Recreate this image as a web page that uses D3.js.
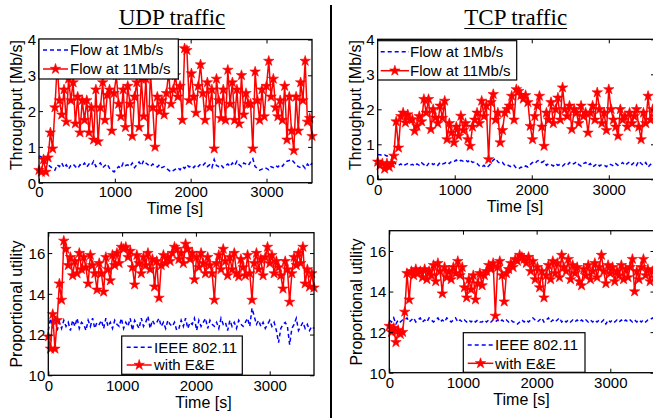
<!DOCTYPE html>
<html><head><meta charset="utf-8">
<script src="https://cdn.jsdelivr.net/npm/d3@7"></script>
<style>html,body{margin:0;padding:0;background:#fff;}svg{display:block;}</style>
</head><body>
<div id="chart"></div>
<script>
// ---------- DATA ----------
const sampleStep = 30;            // seconds between samples
const xTicks = [0, 1000, 2000, 3000];
const thrTicks = [0, 1, 2, 3, 4];
const utilTicks = [10, 12, 14, 16];
const titles = ["UDP traffic", "TCP traffic"];
const thrLegend = ["Flow at 1Mb/s", "Flow at 11Mb/s"];
const utilLegend = ["IEEE 802.11", "with E&E"];

const udpThr1M = [
0.75,0.72,0.60,0.55,0.50,0.45,0.40,0.35,0.50,0.45,
0.55,0.42,0.50,0.38,0.48,0.52,0.45,0.40,0.50,0.47,
0.55,0.44,0.52,0.48,0.60,0.45,0.50,0.55,0.42,0.48,
0.52,0.40,0.35,0.30,0.38,0.45,0.40,0.55,0.48,0.50,
0.45,0.55,0.42,0.50,0.58,0.48,0.62,0.55,0.50,0.45,
0.52,0.48,0.44,0.50,0.42,0.45,0.40,0.35,0.30,0.34,
0.38,0.42,0.36,0.45,0.40,0.50,0.44,0.48,0.42,0.50,
0.45,0.52,0.48,0.55,0.45,0.50,0.42,0.65,0.48,0.45,
0.50,0.42,0.48,0.52,0.45,0.55,0.48,0.60,0.50,0.45,
0.55,0.52,0.48,0.58,0.67,0.45,0.40,0.35,0.38,0.42,
0.40,0.36,0.45,0.42,0.48,0.44,0.50,0.46,0.55,0.60,
0.62,0.65,0.58,0.50,0.45,0.42,0.48,0.40,0.52,0.45,
0.55];
const udpThr11M = [
0.35,0.30,0.65,0.30,0.70,1.40,0.95,2.10,3.30,2.30,
1.90,2.60,1.70,2.90,2.30,2.80,1.65,2.40,1.40,2.30,
1.75,2.30,1.40,2.10,1.20,2.60,1.15,2.10,2.80,1.75,
2.45,2.60,1.45,2.50,3.00,2.20,1.85,2.60,1.55,2.70,
2.20,1.30,2.40,2.80,1.55,2.90,1.85,2.90,1.30,3.05,
2.10,1.00,2.40,2.00,2.30,1.90,2.50,3.10,2.20,2.60,
3.00,2.40,2.70,1.75,3.75,3.70,2.30,3.05,2.40,1.95,
2.70,3.30,2.50,1.75,2.80,2.10,2.60,0.95,2.90,2.30,
1.80,2.60,1.75,3.15,2.20,2.80,1.75,2.60,1.65,3.00,
1.90,2.50,2.20,2.20,0.95,3.10,2.30,1.75,2.60,1.85,
2.70,3.40,2.40,2.90,2.10,1.85,2.30,1.75,2.70,1.20,
2.40,1.45,0.90,2.40,1.45,2.80,2.30,3.40,1.70,1.80,
1.30];
const tcpThr1M = [
0.70,0.70,0.68,0.70,0.66,0.70,0.68,0.50,0.42,0.40,
0.44,0.38,0.42,0.45,0.40,0.43,0.38,0.44,0.40,0.47,
0.42,0.36,0.45,0.48,0.42,0.46,0.40,0.48,0.44,0.46,
0.50,0.45,0.52,0.50,0.55,0.50,0.54,0.52,0.55,0.50,
0.56,0.48,0.50,0.45,0.38,0.35,0.40,0.33,0.38,0.45,
0.55,0.60,0.50,0.45,0.48,0.40,0.42,0.38,0.35,0.40,
0.32,0.30,0.35,0.32,0.38,0.35,0.42,0.48,0.45,0.52,
0.55,0.48,0.52,0.40,0.45,0.42,0.38,0.45,0.40,0.43,
0.38,0.44,0.40,0.48,0.42,0.45,0.50,0.42,0.38,0.45,
0.48,0.40,0.45,0.35,0.40,0.45,0.38,0.42,0.40,0.36,
0.44,0.42,0.38,0.45,0.40,0.42,0.48,0.40,0.45,0.50,
0.42,0.48,0.40,0.52,0.45,0.40,0.48,0.35,0.42,0.48,
0.45];
const tcpThr11M = [
0.50,0.40,0.45,0.30,0.45,0.35,0.45,0.67,1.65,0.90,
1.80,1.90,1.62,1.85,1.70,1.71,1.38,1.52,1.80,1.65,
2.29,1.90,2.29,1.43,2.00,1.76,1.60,2.10,1.75,2.24,
1.14,1.60,1.33,1.05,1.50,1.24,1.81,1.40,1.60,1.14,
0.95,1.50,1.70,1.90,1.60,2.24,1.80,2.10,0.57,2.20,
2.43,1.70,1.90,1.05,1.40,1.90,2.00,2.10,2.38,1.70,
2.57,2.52,2.40,2.30,2.40,2.20,1.52,1.14,1.80,2.10,
2.38,1.50,0.95,1.90,1.70,2.20,1.60,2.00,2.33,1.70,
2.62,2.00,1.80,2.10,1.43,2.00,1.90,1.60,2.10,1.80,
1.90,1.33,1.90,2.10,1.70,2.48,2.00,1.60,1.90,1.40,
2.57,2.00,1.70,1.50,1.24,2.00,1.70,1.80,1.50,1.90,
1.60,1.80,2.00,1.50,1.14,1.90,1.60,2.38,1.70,2.00,
1.80];
const udpUtil80211 = [
12.2,12.8,12.3,12.9,12.2,12.6,12.3,12.7,12.4,12.6,
12.2,12.7,12.4,12.8,12.3,12.6,12.5,12.2,12.7,12.4,
12.8,12.3,12.6,12.5,12.7,12.3,12.8,12.4,12.6,12.3,
12.7,12.5,12.4,12.8,12.3,12.6,12.4,12.8,12.2,12.7,
12.5,12.3,12.8,12.4,12.6,12.9,12.3,12.7,12.5,12.6,
12.8,12.4,12.6,12.3,12.7,12.5,12.4,12.6,12.2,12.3,
12.7,12.4,12.8,12.3,12.6,12.5,12.8,12.2,12.7,12.4,
12.6,12.8,12.3,12.7,12.5,12.4,12.6,12.3,12.8,12.5,
12.6,12.2,12.7,12.4,12.6,12.3,12.7,12.5,12.4,12.6,
12.8,12.4,13.3,12.9,12.5,12.7,12.4,12.6,12.3,12.5,
12.7,12.4,12.6,12.2,11.6,12.3,12.5,12.6,12.4,11.5,
12.3,12.5,12.8,12.2,12.4,12.6,12.3,12.5,12.2,12.4,
12.3];
const udpUtilEE = [
11.9,11.3,13.0,11.3,12.7,14.5,13.7,16.6,16.2,15.4,
15.8,14.9,15.6,15.0,16.0,15.2,15.8,15.3,14.5,15.9,
15.4,15.0,14.2,15.5,15.0,14.1,15.8,15.2,14.65,15.9,
15.4,16.0,15.5,16.3,16.2,16.3,15.8,16.1,15.3,14.45,
15.9,15.5,15.0,15.8,15.4,16.0,15.2,15.7,14.35,15.6,
13.8,15.4,15.9,15.5,15.8,15.6,16.0,16.3,16.2,15.7,
16.0,15.5,16.45,16.2,15.7,16.0,14.7,15.8,15.3,16.0,
15.5,15.0,15.8,15.4,15.0,13.7,15.5,15.9,15.2,16.2,
15.6,14.9,15.8,15.2,16.0,15.0,14.85,15.7,15.3,14.9,
15.9,15.0,13.7,15.5,16.0,15.2,15.7,14.9,15.8,16.3,
15.5,15.9,15.0,15.6,15.3,14.9,14.25,15.6,15.2,13.6,
15.0,15.8,15.4,16.0,15.5,16.3,14.5,15.2,14.35,15.0,
14.3];
const tcpUtil80211 = [
12.6,12.5,12.7,12.4,12.6,12.5,12.6,12.6,12.7,12.5,
12.6,12.7,12.5,12.6,12.7,12.5,12.6,12.5,12.7,12.6,
12.5,12.6,12.7,12.5,12.6,12.5,12.7,12.6,12.5,12.6,
12.7,12.5,12.6,12.5,12.6,12.5,12.6,12.5,12.6,12.5,
12.6,12.5,12.5,12.6,12.5,12.6,12.5,12.6,12.5,12.6,
12.5,12.6,12.5,12.6,12.5,12.6,12.5,12.5,12.4,12.5,
12.6,12.5,12.6,12.5,12.6,12.7,12.6,12.5,12.6,12.7,
12.5,12.6,12.7,12.5,12.6,12.5,12.6,12.7,12.5,12.6,
12.5,12.6,12.5,12.6,12.5,12.6,12.5,12.6,12.5,12.6,
12.5,12.6,12.5,12.6,12.5,12.6,12.5,12.6,12.4,12.6,
12.5,12.6,12.5,12.6,12.5,12.6,12.5,12.6,12.5,12.6,
12.5,12.6,12.5,12.6,12.5,12.6,12.5,12.6,12.6,12.7,
12.6];
const tcpUtilEE = [
12.3,12.0,12.2,11.5,12.1,11.9,12.0,13.0,14.9,13.6,
15.0,14.8,15.1,14.9,15.0,14.7,15.1,14.6,15.0,14.8,
15.3,14.5,15.4,15.0,13.9,15.2,14.7,15.0,14.6,15.2,
14.9,15.5,14.8,15.2,14.2,13.7,14.6,14.1,14.8,13.6,
14.4,14.9,14.3,14.8,15.0,15.3,15.1,15.4,12.8,15.2,
15.5,14.8,13.5,14.9,15.1,15.4,15.2,15.6,15.5,15.8,
15.7,15.6,15.4,15.7,15.0,15.5,14.6,15.2,14.2,15.0,
13.7,14.8,15.3,14.6,15.5,14.9,15.4,14.7,15.8,15.2,
15.0,15.6,14.6,15.3,14.9,15.2,14.5,14.3,15.1,14.8,
15.3,14.6,15.0,15.4,14.7,15.2,15.8,15.0,14.4,15.3,
14.9,15.2,14.5,15.0,14.8,15.3,14.6,15.1,14.7,15.2,
15.6,14.0,15.0,14.6,15.2,15.6,14.8,15.1,14.5,15.0,
14.7];

// ---------- LAYOUT ----------
const W = 653, H = 418;
const BLUE = "#0000ff", RED = "#ff0000";
const FONT = "'Liberation Sans', Arial, Helvetica, sans-serif";
const SERIF = "'Liberation Serif', 'Times New Roman', Times, serif";

const panels = [
  {x0:39, x1:312, y0:39.5, y1:182.7, ydom:[0,4], yticks:thrTicks, blue:udpThr1M, red:udpThr11M,
   ylabel:"Throughput [Mb/s]", ylx:21.5, yly:105, xlx:175, xly:214, tickBase:197.5,
   legend:thrLegend, lg:{x0:39, y0:39, x1:178.3, y1:79, r1:50, r2:69, s0:43, s1:68, tx:70}},
  {x0:377.7, x1:655, y0:39.3, y1:179.3, ydom:[0,4], yticks:thrTicks, blue:tcpThr1M, red:tcpThr11M,
   ylabel:"Throughput [Mb/s]", ylx:360.5, yly:105, xlx:515, xly:212, tickBase:195,
   legend:thrLegend, lg:{x0:377.7, y0:40.7, x1:516.7, y1:80, r1:51.7, r2:70.7, s0:380.7, s1:409, tx:410}},
  {x0:48.3, x1:314, y0:232.7, y1:375.3, ydom:[10,17], yticks:utilTicks, blue:udpUtil80211, red:udpUtilEE,
   ylabel:"Proportional utility", ylx:21.5, yly:304, xlx:203.5, xly:408, tickBase:391,
   legend:utilLegend, lg:{x0:121.7, y0:336, x1:242.3, y1:374.3, r1:347.3, r2:365, s0:126.7, s1:151.7, tx:154}},
  {x0:389.3, x1:654.5, y0:230.7, y1:372.7, ydom:[10,17], yticks:utilTicks, blue:tcpUtil80211, red:tcpUtilEE,
   ylabel:"Proportional utility", ylx:361.5, yly:302, xlx:521.5, xly:405, tickBase:388.5,
   legend:utilLegend, lg:{x0:463.3, y0:332.7, x1:585, y1:372.3, r1:345, r2:363.3, s0:467.7, s1:493.3, tx:495}}
];

const svg = d3.select("#chart").append("svg").attr("width", W).attr("height", H)
  .style("font-family", FONT);
svg.append("rect").attr("width", W).attr("height", H).attr("fill", "#fff");

const star = d3.symbol().type(d3.symbolStar).size(34);

panels.forEach(p => {
  const x = d3.scaleLinear().domain([0, 3600]).range([p.x0, p.x1]);
  const y = d3.scaleLinear().domain(p.ydom).range([p.y1, p.y0]);
  const g = svg.append("g");

  // series
  const toPts = arr => arr.map((v, i) => [i * sampleStep, v]);
  const line = d3.line().x(d => x(d[0])).y(d => y(d[1]));
  g.append("path").datum(toPts(p.blue)).attr("d", line)
    .attr("fill", "none").attr("stroke", BLUE).attr("stroke-width", 1.5)
    .attr("stroke-dasharray", "4,3");
  const redPts = toPts(p.red);
  g.append("path").datum(redPts).attr("d", line)
    .attr("fill", "none").attr("stroke", RED).attr("stroke-width", 1.5);
  g.selectAll(".st").data(redPts).enter().append("path")
    .attr("d", star).attr("transform", d => `translate(${x(d[0])},${y(d[1])})`)
    .attr("fill", RED).attr("stroke", RED).attr("stroke-width", 0.6);

  // frame
  g.append("rect").attr("x", p.x0).attr("y", p.y0)
    .attr("width", p.x1 - p.x0).attr("height", p.y1 - p.y0)
    .attr("fill", "none").attr("stroke", "#000").attr("stroke-width", 1.3);

  // axes (ticks inward on all sides)
  const axB = g.append("g").attr("transform", `translate(0,${p.y1})`)
    .call(d3.axisBottom(x).tickValues(xTicks).tickSizeInner(-4).tickSizeOuter(0).tickFormat(d3.format("d")));
  axB.select(".domain").remove();
  axB.selectAll(".tick line").attr("stroke", "#000");
  axB.selectAll(".tick text").attr("y", p.tickBase - p.y1).attr("dy", 0)
    .attr("font-size", 15).attr("font-family", FONT).attr("fill", "#000");

  const axT = g.append("g").attr("transform", `translate(0,${p.y0})`)
    .call(d3.axisTop(x).tickValues(xTicks).tickSizeInner(-4).tickSizeOuter(0).tickFormat(""));
  axT.select(".domain").remove();

  const axL = g.append("g").attr("transform", `translate(${p.x0},0)`)
    .call(d3.axisLeft(y).tickValues(p.yticks).tickSizeInner(-4).tickSizeOuter(0).tickFormat(d3.format("d")));
  axL.select(".domain").remove();
  axL.selectAll(".tick text").attr("x", -3).attr("dy", "0.36em")
    .attr("font-size", 15).attr("font-family", FONT).attr("fill", "#000");

  const axR = g.append("g").attr("transform", `translate(${p.x1},0)`)
    .call(d3.axisRight(y).tickValues(p.yticks).tickSizeInner(-4).tickSizeOuter(0).tickFormat(""));
  axR.select(".domain").remove();

  // axis labels
  g.append("text").attr("x", p.xlx).attr("y", p.xly).attr("text-anchor", "middle")
    .attr("font-size", 16).text("Time [s]");
  g.append("text").attr("transform", `translate(${p.ylx},${p.yly}) rotate(-90)`)
    .attr("text-anchor", "middle").attr("font-size", 16).text(p.ylabel);

  // legend
  const L = p.lg;
  const lg = g.append("g");
  lg.append("rect").attr("x", L.x0).attr("y", L.y0).attr("width", L.x1 - L.x0).attr("height", L.y1 - L.y0)
    .attr("fill", "#fff").attr("stroke", "#000").attr("stroke-width", 1.2);
  lg.append("line").attr("x1", L.s0).attr("x2", L.s1).attr("y1", L.r1).attr("y2", L.r1)
    .attr("stroke", BLUE).attr("stroke-width", 1.5).attr("stroke-dasharray", "4,3");
  lg.append("line").attr("x1", L.s0).attr("x2", L.s1).attr("y1", L.r2).attr("y2", L.r2)
    .attr("stroke", RED).attr("stroke-width", 1.5);
  lg.append("path").attr("d", star).attr("transform", `translate(${(L.s0 + L.s1) / 2},${L.r2})`)
    .attr("fill", RED).attr("stroke", RED).attr("stroke-width", 0.6);
  lg.append("text").attr("x", L.tx).attr("y", L.r1).attr("dy", "0.36em").attr("font-size", 15).text(p.legend[0]);
  lg.append("text").attr("x", L.tx).attr("y", L.r2).attr("dy", "0.36em").attr("font-size", 15).text(p.legend[1]);
});

// titles with underline
[[titles[0], 172], [titles[1], 515.7]].forEach(([t, cx]) => {
  const tx = svg.append("text").attr("x", cx).attr("y", 25).attr("text-anchor", "middle")
    .attr("font-family", SERIF).attr("font-size", 23).attr("fill", "#000").text(t);
  const w = tx.node().getComputedTextLength();
  svg.append("line").attr("x1", cx - w / 2).attr("x2", cx + w / 2).attr("y1", 28.5).attr("y2", 28.5)
    .attr("stroke", "#000").attr("stroke-width", 1.2);
});

// vertical divider
svg.append("line").attr("x1", 331).attr("x2", 331).attr("y1", 5).attr("y2", H)
  .attr("stroke", "#000").attr("stroke-width", 2);
</script>
</body></html>
